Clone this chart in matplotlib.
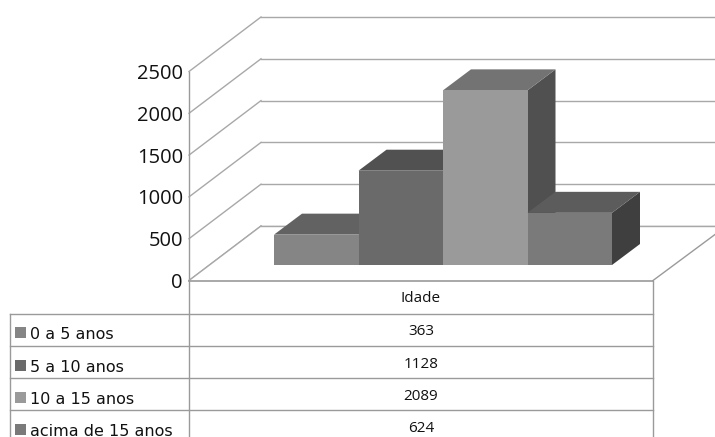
#!/usr/bin/env python3
import matplotlib
matplotlib.use("Agg")
import matplotlib.pyplot as plt
from matplotlib.patches import Polygon, Rectangle

plt.rcParams["font.family"] = ["Open Sans", "DejaVu Sans"]

CATEGORIES = ["0 a 5 anos", "5 a 10 anos", "10 a 15 anos", "acima de 15 anos"]
VALUES = [363, 1128, 2089, 624]
TICKS = [0, 500, 1000, 1500, 2000, 2500]
GROUP = "Idade"

FRONT = ["#858585", "#6a6a6a", "#9a9a9a", "#7a7a7a"]
TOP = ["#626262", "#515151", "#737373", "#5c5c5c"]
SIDE = ["#4c4c4c", "#474747", "#505050", "#3f3f3f"]
GRID = "#a8a8a8"
LINE = "#9a9a9a"

# pixel layout of the 3D box
X0, Y0 = 189, 280.5
X1 = 653
PX_PER_UNIT = 0.0836
WALL_DX, WALL_DY = 72, -54.5
BAR_X0, BAR_W = 274, 84.5
BAR_Y0 = 265
BAR_DX, BAR_DY = 28, -21
ROWS = [313.5, 346, 378, 410]
TABLE_L = 9.5


def wall_y(v):
    return Y0 - v * PX_PER_UNIT


def draw_bar(ax, i, v):
    x0 = BAR_X0 + i * BAR_W
    x1 = x0 + BAR_W
    y0 = BAR_Y0
    y1 = y0 - v * PX_PER_UNIT
    ax.add_patch(Polygon([(x1, y0), (x1 + BAR_DX, y0 + BAR_DY), (x1 + BAR_DX, y1 + BAR_DY), (x1, y1)],
                         fc=SIDE[i], ec="none", zorder=3 + i))
    ax.add_patch(Polygon([(x0, y1), (x1, y1), (x1 + BAR_DX, y1 + BAR_DY), (x0 + BAR_DX, y1 + BAR_DY)],
                         fc=TOP[i], ec="none", zorder=3 + i))
    ax.add_patch(Rectangle((x0, y1), BAR_W, y0 - y1, fc=FRONT[i], ec="none", zorder=3 + i))


def main():
    fig = plt.figure(figsize=(7.15, 4.37), dpi=100)
    ax = fig.add_axes([0, 0, 1, 1])
    ax.set_xlim(0, 715)
    ax.set_ylim(437, 0)
    ax.axis("off")

    # back wall, left wall and value labels
    for t in TICKS:
        y = wall_y(t)
        ax.plot([X0, X0 + WALL_DX], [y, y + WALL_DY], color=GRID, lw=1, zorder=1)
        ax.plot([X0 + WALL_DX, 715], [y + WALL_DY, y + WALL_DY], color=GRID, lw=1, zorder=1)
        ax.text(183, y + 2.5, str(t), ha="right", va="center", fontsize=14.5, color="#111111")
    ax.plot([X0, X0], [wall_y(TICKS[-1]), 437], color=LINE, lw=1, zorder=2)

    # floor edge
    ax.add_patch(Polygon([(X0, Y0), (X0 + WALL_DX, Y0 + WALL_DY), (715, Y0 + WALL_DY),
                          (715, Y0 - 46), (X1, Y0)], fc="white", ec="none", zorder=1.5))
    ax.plot([X0, X0 + WALL_DX], [Y0, Y0 + WALL_DY], color=GRID, lw=1, zorder=2)
    ax.plot([X0 + WALL_DX, 715], [Y0 + WALL_DY, Y0 + WALL_DY], color=GRID, lw=1, zorder=2)
    ax.plot([X0, X1], [Y0, Y0], color=LINE, lw=1.2, zorder=2)
    ax.plot([X1, 715], [Y0, Y0 - 46], color=LINE, lw=1, zorder=2)

    for i, v in enumerate(VALUES):
        draw_bar(ax, i, v)

    # data table
    for y in ROWS:
        ax.plot([TABLE_L, X1], [y, y], color=LINE, lw=1, zorder=2)
    ax.plot([TABLE_L, TABLE_L], [ROWS[0], 437], color=LINE, lw=1, zorder=2)
    ax.plot([X1, X1], [Y0, 437], color=LINE, lw=1, zorder=2)

    cx = (X0 + X1) / 2
    ax.text(cx, 298.5, GROUP, ha="center", va="center", fontsize=11, color="#111111")
    for k, (name, v) in enumerate(zip(CATEGORIES, VALUES)):
        y = ROWS[k]
        ax.text(cx, y + 18, str(v), ha="center", va="center", fontsize=11, color="#111111")
        ax.add_patch(Rectangle((14.5, y + 13.5), 11, 11, fc=FRONT[k], ec="none", zorder=3))
        ax.text(30, y + 25.5, name, ha="left", va="baseline", fontsize=11.5,
                family="DejaVu Sans", color="#111111")

    fig.savefig("out.png", dpi=100)
    plt.close(fig)


if __name__ == "__main__":
    main()
